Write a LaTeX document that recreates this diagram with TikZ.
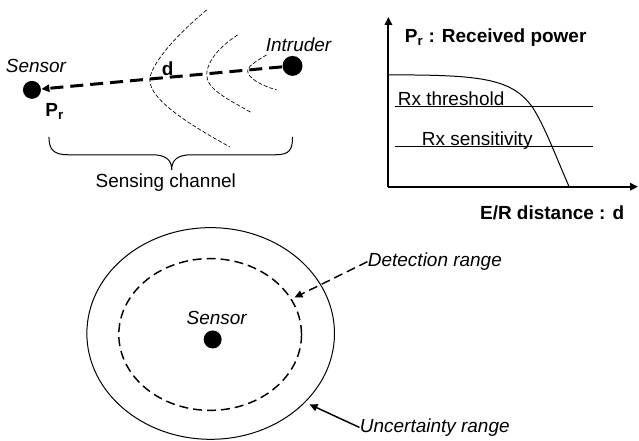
\documentclass[tikz,border=0pt]{standalone}
\usepackage{fontspec}
\setmainfont{Liberation Sans}
\usetikzlibrary{arrows.meta}

\tikzset{every picture/.style={line width=0.75pt}}
\tikzset{
  dot/.style={circle, fill=black, inner sep=0pt, minimum size=13.5pt},
  tip/.style={-{Triangle[length=6pt,width=5.5pt]}},
  lbl/.style={inner sep=0pt, font=\fontsize{14.25}{17}\selectfont},
  ilbl/.style={inner sep=0pt, font=\fontsize{14.25}{17}\selectfont\itshape},
  blbl/.style={inner sep=0pt, font=\fontsize{14.25}{17}\selectfont\bfseries},
  wave/.style={line width=0.5pt, dash pattern=on 3pt off 1.5pt},
}

\begin{document}
\begin{tikzpicture}[x=0.75pt,y=0.75pt,yscale=-1,xscale=1]
%set diagram left start at 0, and has height of 441
\path (0,0) rectangle (639,441);

%Shape: Circle [id:sensor top]
\node[dot] (sensA) at (32,90) {};
%Shape: Circle [id:intruder]
\node[dot, minimum size=15pt] (intr) at (293,66) {};
%Straight Lines [id:signal]
\draw[tip, line width=2.25pt, dash pattern=on 9.75pt off 5.25pt] (intr) -- (sensA);

%Curve Lines [id:wave fronts]
\draw[wave] (207,10) .. controls (165,45) and (150,70) .. (150,80) .. controls (150,100) and (190,125) .. (230,147);
\draw[wave] (238,35) .. controls (215,50) and (207,65) .. (207,75) .. controls (207,90) and (230,100) .. (252,113);
\draw[wave] (267,55) .. controls (255,62) and (248,67) .. (248,71) .. controls (248,78) and (262,86) .. (277,90);

%Shape: Brace [id:channel]
\draw (49,137) .. controls (49,150) and (54,155) .. (68,155) -- (152,155) .. controls (166,155) and (172,160) .. (172,170) .. controls (172,160) and (178,155) .. (192,155) -- (276,155) .. controls (290,155) and (293,150) .. (293,137);

% Text Node
\node[ilbl, anchor=base] (lblSensA) at (36,73) {Sensor};
% Text Node
\node[ilbl, anchor=base] (lblIntr) at (299,52) {Intruder};
% Text Node
\node[blbl, anchor=base] (lblD) at (168,76) {d};
% Text Node
\node[blbl, anchor=base west] (lblPr) at (45,117) {P\textsubscript{r}};
% Text Node
\node[lbl, anchor=base] (lblChan) at (166,188) {Sensing channel};

%Straight Lines [id:axes]
\coordinate (orig) at (389,187);
\coordinate (ytop) at (389,17);
\coordinate (xend) at (639,187);
\draw[tip, line width=1.5pt] (orig) -- (ytop);
\draw[tip, line width=1.5pt] (orig) -- (xend);

%Curve Lines [id:power]
\draw (389,75) .. controls (480,75) and (512,78) .. (533,107) .. controls (545,125) and (556,155) .. (570,187);

%Straight Lines [id:levels]
\draw (396,107) -- (594,107);
\draw (396,147) -- (594,147);

% Text Node
\node[blbl, anchor=base west] (lblPow) at (405,43) {P\textsubscript{r} : Received power};
% Text Node
\node[lbl, anchor=base west] (lblThr) at (398,106) {Rx threshold};
% Text Node
\node[lbl, anchor=base west] (lblSen) at (422,146) {Rx sensitivity};
% Text Node
\node[blbl, anchor=base] (lblDist) at (553,220) {E/R distance : d};

%Shape: Ellipse [id:uncertainty]
\draw (211,334) ellipse (124 and 106);
%Shape: Ellipse [id:detection]
\draw[line width=1.1pt, dash pattern=on 6.75pt off 3.75pt] (210.5,335) ellipse (91.5 and 76);
%Shape: Circle [id:sensor bottom]
\node[dot] (sensB) at (213,340) {};

% Text Node
\node[ilbl, anchor=base] (lblSensB) at (217,325) {Sensor};
% Text Node
\node[ilbl, anchor=base west] (lblDet) at (368,267) {Detection range};
% Text Node
\node[ilbl, anchor=base west] (lblUnc) at (360,433) {Uncertainty range};

\coordinate (detPt) at (295,298);
\coordinate (uncPt) at (310,405);
%Straight Lines [id:pointers]
\draw[tip, line width=1.1pt, dash pattern=on 6.75pt off 3.75pt] (lblDet.west) -- (detPt);
\draw[tip, line width=1.1pt] (lblUnc.west) -- (uncPt);

\end{tikzpicture}
\end{document}
